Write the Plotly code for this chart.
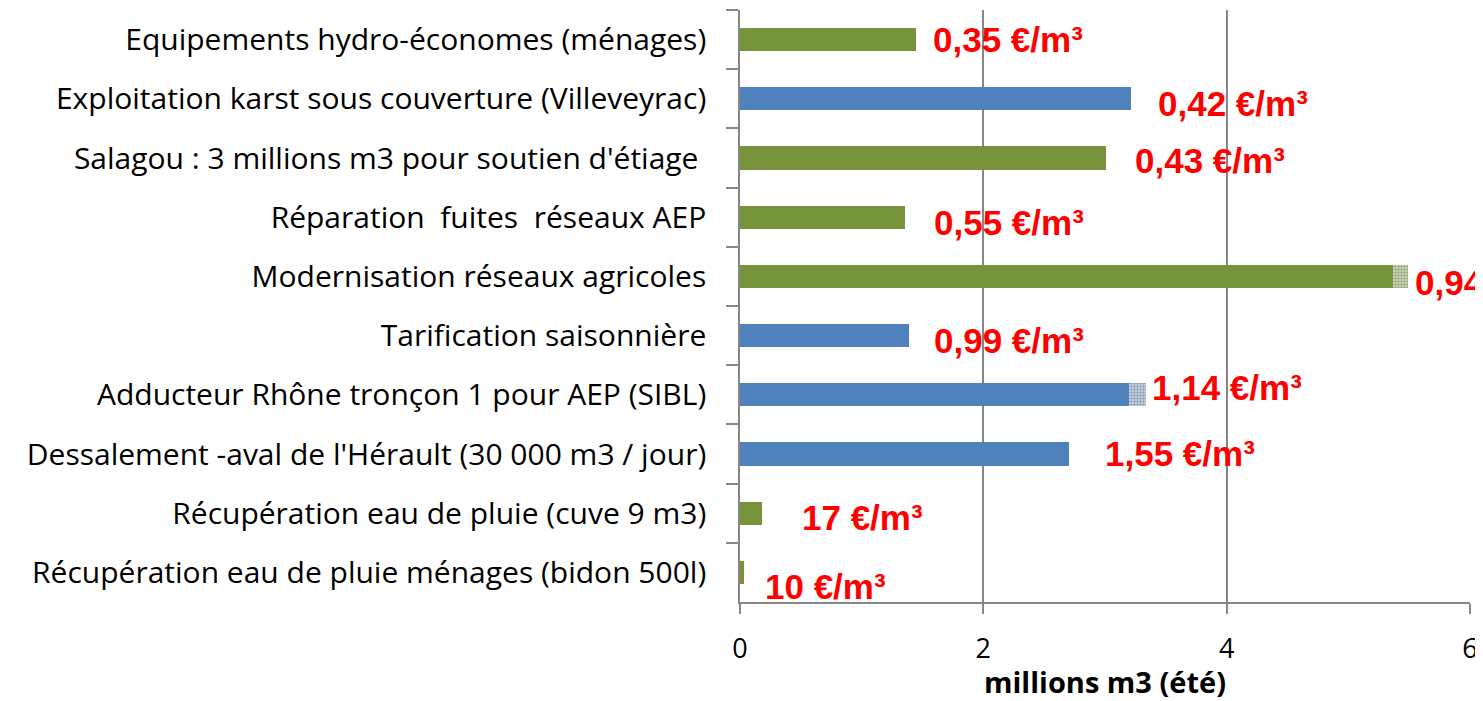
import plotly.graph_objects as go

categories = [
    "Equipements hydro-économes (ménages)",
    "Exploitation karst sous couverture (Villeveyrac)",
    "Salagou : 3 millions m3 pour soutien d'étiage ",
    "Réparation  fuites  réseaux AEP",
    "Modernisation réseaux agricoles",
    "Tarification saisonnière",
    "Adducteur Rhône tronçon 1 pour AEP (SIBL)",
    "Dessalement -aval de l'Hérault (30 000 m3 / jour)",
    "Récupération eau de pluie (cuve 9 m3)",
    "Récupération eau de pluie ménages (bidon 500l)",
]
volumes = [1.45, 3.21, 3.01, 1.36, 5.37, 1.39, 3.20, 2.70, 0.18, 0.03]
extra_volumes = [0, 0, 0, 0, 0.12, 0, 0.14, 0, 0, 0]
groups = ["g", "b", "g", "g", "g", "b", "b", "b", "g", "g"]
cost_labels = ["0,35 €/m³", "0,42 €/m³", "0,43 €/m³", "0,55 €/m³", "0,94 €/m³",
               "0,99 €/m³", "1,14 €/m³", "1,55 €/m³", "17 €/m³", "10 €/m³"]
x_ticks = [0, 2, 4, 6]

# styling / placement (not data)
solid = {"g": "#77933C", "b": "#4F81BD"}
light = {"g": "#C9D6AE", "b": "#BFD0E6"}
label_gap_px = [15, 25, 27, 27, 5, 23, 4, 34, 38, 19]
label_dy_px = [0, 5, 2, 5, 6, 5, -7, -1, 4, 14]

fig = go.Figure()
fig.add_trace(go.Bar(
    y=categories, x=volumes, orientation="h",
    marker=dict(color=[solid[g] for g in groups], line=dict(width=0)),
    width=0.39, showlegend=False, hoverinfo="x+y",
))
fig.add_trace(go.Bar(
    y=categories, x=extra_volumes, orientation="h",
    marker=dict(color=[light[g] for g in groups], line=dict(width=0),
                pattern=dict(shape="+", fgcolor="white", size=3, solidity=0.3)),
    width=0.39, showlegend=False, hoverinfo="x+y",
))

for i, cat in enumerate(categories):
    fig.add_annotation(
        x=volumes[i] + extra_volumes[i], y=cat, xref="x", yref="y",
        text=cost_labels[i], showarrow=False, xanchor="left", yanchor="middle",
        xshift=label_gap_px[i], yshift=-label_dy_px[i],
        font=dict(family="Liberation Sans, Arial", size=35, color="#FF0000", weight="bold"),
    )

# page body adds an 8px margin, so the figure is sized 16px smaller
fig.update_layout(
    width=1475, height=693,
    margin=dict(l=732, r=13, t=2, b=99),
    barmode="stack",
    plot_bgcolor="white", paper_bgcolor="white",
    font=dict(family="Open Sans", size=26, color="black"),
)
fig.update_xaxes(
    range=[0, 6], tickvals=x_ticks, ticktext=[str(v) for v in x_ticks],
    showgrid=True, gridcolor="#868686", gridwidth=1.5,
    showline=True, linecolor="#868686", linewidth=1.5,
    ticks="outside", ticklen=10, tickcolor="#868686", tickwidth=1.5,
    ticklabelstandoff=12, zeroline=False,
    tickfont=dict(family="Open Sans", size=27),
    title=dict(text="<b>millions m3 (été)</b>", standoff=8,
               font=dict(family="Open Sans", size=29)),
)
fig.update_yaxes(
    categoryorder="array", categoryarray=categories, autorange="reversed",
    showline=True, linecolor="#868686", linewidth=1.5,
    ticks="outside", ticklen=12, tickcolor="#868686", tickwidth=1.5,
    tickson="boundaries", ticklabelstandoff=26,
    tickfont=dict(family="Open Sans", size=30),
    showgrid=False,
)

fig.write_html("out.html")
